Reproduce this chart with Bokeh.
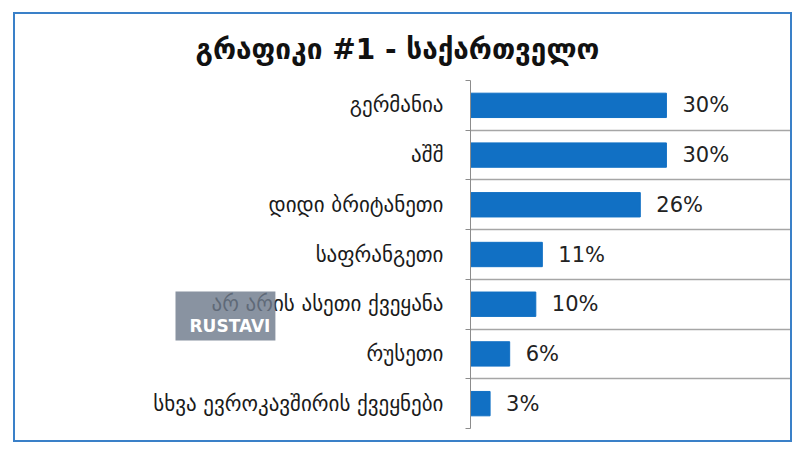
from bokeh.plotting import figure
from bokeh.models import Range1d, FixedTicker, ColumnDataSource, Label
from bokeh.core.properties import value
from bokeh.embed import file_html
from bokeh.resources import INLINE

title = "გრაფიკი #1 - საქართველო"
categories = ["გერმანია", "აშშ", "დიდი ბრიტანეთი", "საფრანგეთი",
              "არ არის ასეთი ქვეყანა", "რუსეთი", "სხვა ევროკავშირის ქვეყნები"]
values = [30, 30, 26, 11, 10, 6, 3]
value_labels = ["30%", "30%", "26%", "11%", "10%", "6%", "3%"]

FONT = "DejaVu Sans"
n = len(categories)
ypos = [n - i for i in range(n)]
source = ColumnDataSource(dict(y=ypos, v=values, lab=value_labels))

p = figure(width=779, height=430, output_backend="svg", toolbar_location=None,
           x_range=Range1d(0, 49), y_range=Range1d(0.5, n + 0.5),
           min_border_left=455, min_border_right=4, min_border_top=66,
           min_border_bottom=16)
p.styles = {"border": "2px solid #3a80c8", "margin-left": "13px", "margin-top": "12px"}
p.outline_line_color = None
p.background_fill_color = "white"
p.border_fill_color = "white"

p.title.text = title
p.title.text_font = FONT
p.title.text_font_size = "28px"
p.title.text_font_style = "bold"
p.title.text_color = "#111111"
p.title.align = "left"
p.title.offset = -275
p.title.standoff = 30

p.hbar(y="y", right="v", left=0, height=0.49, source=source,
       fill_color="#1170c4", line_color="#1170c4")
p.text(x="v", y="y", text="lab", source=source, x_offset=16,
       text_baseline="middle", text_align="left", text_font=value(FONT),
       text_font_size="21px", text_color="#222222")

ticker = FixedTicker(ticks=ypos, minor_ticks=[k + 0.5 for k in range(n + 1)])
ya = p.yaxis[0]
ya.ticker = ticker
ya.major_label_overrides = {y: c for y, c in zip(ypos, categories)}
ya.major_tick_out = 0
ya.major_tick_in = 0
ya.minor_tick_out = 5
ya.minor_tick_in = 0
ya.minor_tick_line_color = "#8c8c8c"
ya.axis_line_color = "#8c8c8c"
ya.major_label_standoff = 22
ya.major_label_text_font = FONT
ya.major_label_text_font_size = "21px"
ya.major_label_text_color = "#1a1a1a"

p.xaxis.visible = False
p.xgrid.visible = False
p.ygrid.ticker = ticker
p.ygrid.grid_line_color = None
p.ygrid.minor_grid_line_color = "#a6a6a6"
p.ygrid.minor_grid_line_width = 1.5

wm = Label(x=125, y=88, x_units="screen", y_units="screen", text="RUSTAVI",
           text_font=FONT, text_font_size="17px", text_font_style="bold",
           text_color="white", background_fill_color="#6f7b8c",
           background_fill_alpha=0.82,
           padding=dict(left=14, right=5, top=24, bottom=5))
p.add_layout(wm, "left")

open("out.html", "w").write(file_html(p, INLINE))
